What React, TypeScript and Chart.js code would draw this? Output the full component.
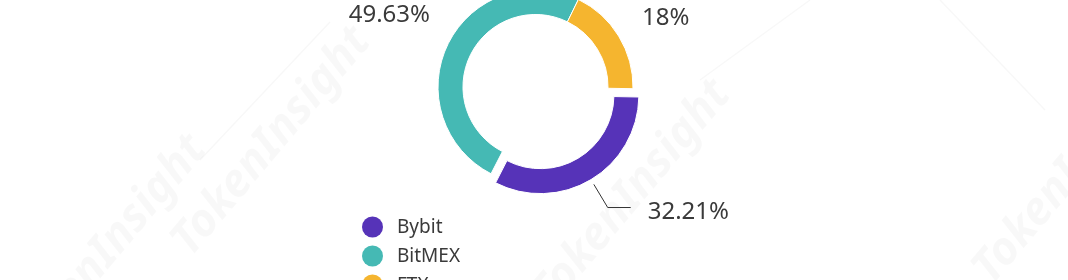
import React, { useEffect, useRef } from 'react';
import { Chart, registerables } from 'chart.js';

Chart.register(...registerables);

// Share of open interest by exchange
const exchanges = ['Bybit', 'BitMEX', 'FTX'];
const shares = [32.21, 49.63, 18];
const shareLabels = ['32.21%', '49.63%', '18%'];
const sliceColors = ['#5633b8', '#45b9b4', '#f5b52f'];

const CANVAS_W = 1068;
const CANVAS_H = 400;
const SHIFT_Y = 60; // canvas is raised so the ring's top runs off the page
const CENTER_Y = 87; // ring centre, page coordinates

const FONT = '"Noto Sans", "DejaVu Sans", sans-serif';
const TEXT_COLOR = '#3a3a3a';

// faint diagonal brand marks behind the chart
const watermarkPlugin = {
  id: 'brandWatermark',
  beforeDraw(chart: any) {
    const ctx = chart.ctx as CanvasRenderingContext2D;
    ctx.save();
    ctx.fillStyle = 'rgba(0,0,0,0.028)';
    ctx.font = `italic bold 46px ${FONT}`;
    const marks: [number, number, CanvasTextAlign][] = [
      [208, 150, 'right'],
      [732, 95, 'right'],
      [372, 42, 'right'],
      [992, 286, 'left'],
    ];
    marks.forEach(([mx, my, align]) => {
      ctx.save();
      ctx.translate(mx, my + SHIFT_Y);
      ctx.rotate((-50 * Math.PI) / 180);
      ctx.textAlign = align;
      ctx.textBaseline = 'alphabetic';
      ctx.fillText('TokenInsight', 0, 0);
      ctx.restore();
    });
    ctx.strokeStyle = 'rgba(0,0,0,0.03)';
    ctx.lineWidth = 1.5;
    const lines: [number, number, number, number][] = [
      [200, 160, 330, 22],
      [810, 0, 700, 80],
      [940, 0, 1045, 110],
    ];
    lines.forEach(([x1, y1, x2, y2]) => {
      ctx.beginPath();
      ctx.moveTo(x1, y1 + SHIFT_Y);
      ctx.lineTo(x2, y2 + SHIFT_Y);
      ctx.stroke();
    });
    ctx.restore();
  },
};

// percentage labels beside each slice
const sliceLabelPlugin = {
  id: 'sliceLabels',
  afterDatasetsDraw(chart: any) {
    const ctx = chart.ctx as CanvasRenderingContext2D;
    const arcs = chart.getDatasetMeta(0).data;
    ctx.save();
    ctx.font = `24px ${FONT}`;
    ctx.fillStyle = TEXT_COLOR;
    ctx.strokeStyle = '#333333';
    ctx.lineWidth = 1;
    ctx.textBaseline = 'alphabetic';
    arcs.forEach((arc: any, i: number) => {
      const { x, y, startAngle, endAngle, outerRadius } = arc.getProps(
        ['x', 'y', 'startAngle', 'endAngle', 'outerRadius'],
        true
      );
      const mid = (startAngle + endAngle) / 2;
      const dx = Math.cos(mid);
      const dy = Math.sin(mid);
      const text = shareLabels[i];
      if (i === 0) {
        const p0x = x + dx * (outerRadius + 16);
        const p0y = y + dy * (outerRadius + 16);
        const p1x = x + dx * (outerRadius + 43);
        const p1y = y + dy * (outerRadius + 43);
        const p2x = p1x + 23;
        ctx.beginPath();
        ctx.moveTo(p0x, p0y);
        ctx.lineTo(p1x, p1y);
        ctx.lineTo(p2x, p1y);
        ctx.stroke();
        ctx.textAlign = 'left';
        ctx.fillText(text, p2x + 17, p1y + 11);
      } else if (i === 1) {
        ctx.textAlign = 'right';
        ctx.fillText(text, x - 105.5, y - 65);
      } else {
        ctx.textAlign = 'left';
        ctx.fillText(text, x + 106.5, y - 62);
      }
    });
    ctx.restore();
  },
};

// legend with round markers below the ring
const legendPlugin = {
  id: 'dotLegend',
  afterDraw(chart: any) {
    const ctx = chart.ctx as CanvasRenderingContext2D;
    const labels: string[] = chart.data.labels;
    const colors: string[] = chart.data.datasets[0].backgroundColor;
    ctx.save();
    ctx.font = `19px ${FONT}`;
    ctx.textAlign = 'left';
    ctx.textBaseline = 'middle';
    labels.forEach((label, i) => {
      const cy = 227 + i * 29 + SHIFT_Y;
      ctx.fillStyle = colors[i];
      ctx.beginPath();
      ctx.arc(372.5, cy, 10.5, 0, Math.PI * 2);
      ctx.fill();
      ctx.fillStyle = TEXT_COLOR;
      ctx.fillText(label, 397, cy + 1);
    });
    ctx.restore();
  },
};

export default function App() {
  const canvasRef = useRef<HTMLCanvasElement | null>(null);

  useEffect(() => {
    const canvas = canvasRef.current;
    if (!canvas) return;
    const centreCanvasY = CENTER_Y + SHIFT_Y;
    const chart = new Chart(canvas, {
      type: 'doughnut',
      data: {
        labels: exchanges,
        datasets: [
          {
            data: shares,
            backgroundColor: sliceColors,
            borderColor: '#ffffff',
            borderWidth: 1,
            offset: [38, 0, 0],
            hoverOffset: 0,
          },
        ],
      },
      options: {
        responsive: false,
        animation: false,
        rotation: 91,
        radius: 97.5,
        cutout: '74.4%',
        events: [],
        layout: {
          padding: {
            left: 385.5,
            right: 382.5,
            top: 0,
            bottom: CANVAS_H - 2 * centreCanvasY,
          },
        },
        plugins: {
          legend: { display: false },
          tooltip: { enabled: false },
        },
      },
      plugins: [watermarkPlugin, sliceLabelPlugin, legendPlugin],
    } as any);
    return () => chart.destroy();
  }, []);

  return (
    <div
      style={{
        position: 'fixed',
        left: 0,
        top: -SHIFT_Y,
        width: CANVAS_W,
        height: CANVAS_H,
        background: '#ffffff',
      }}
    >
      <canvas
        ref={canvasRef}
        width={CANVAS_W}
        height={CANVAS_H}
        style={{ width: CANVAS_W, height: CANVAS_H, display: 'block' }}
      />
    </div>
  );
}
